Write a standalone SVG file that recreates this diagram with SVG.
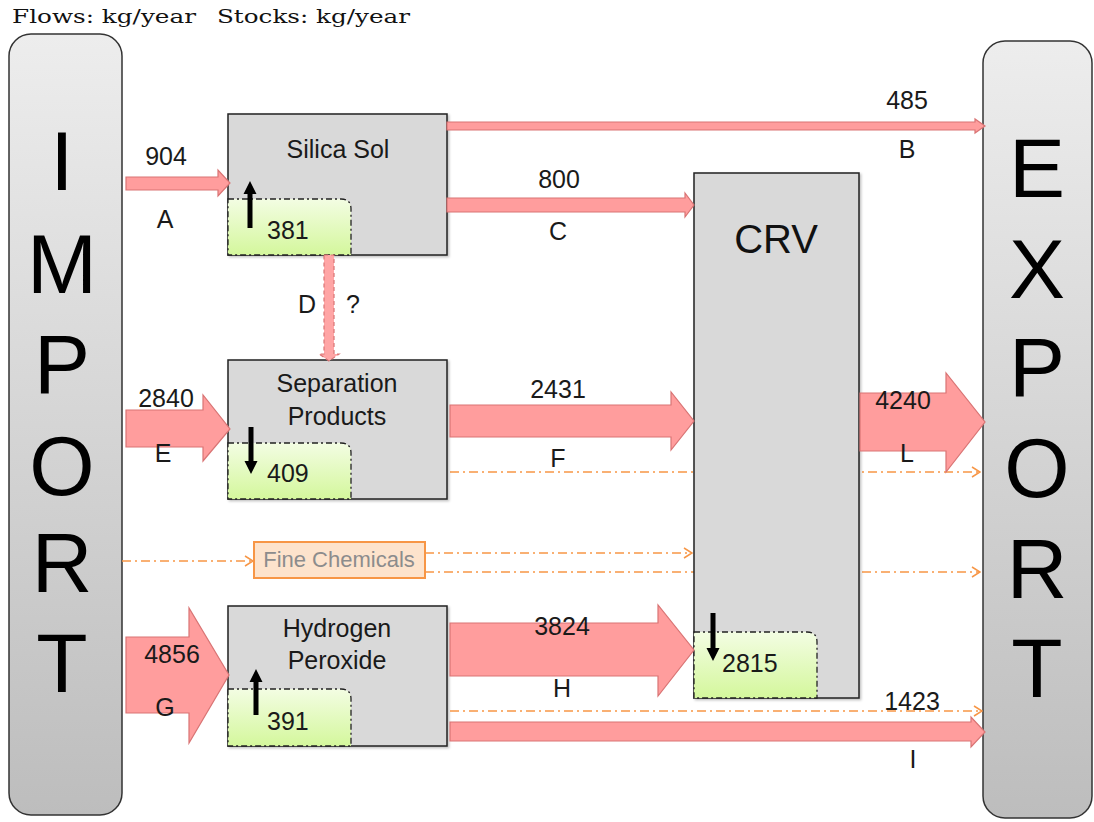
<svg xmlns="http://www.w3.org/2000/svg" width="1094" height="822" viewBox="0 0 1094 822">
<defs>
  <linearGradient id="gSide" x1="0" y1="0" x2="0" y2="1">
    <stop offset="0" stop-color="#ededed"/>
    <stop offset="1" stop-color="#bdbdbd"/>
  </linearGradient>
  <linearGradient id="gStock" x1="0" y1="0" x2="0" y2="1">
    <stop offset="0" stop-color="#f3fde3"/>
    <stop offset="1" stop-color="#d4f79c"/>
  </linearGradient>
  <marker id="chev" viewBox="0 0 10 12" refX="9" refY="6" markerWidth="10" markerHeight="12" markerUnits="userSpaceOnUse" orient="auto">
    <path d="M1,1 L9,6 L1,11" fill="none" stroke="#f79646" stroke-width="1.5"/>
  </marker>
  <filter id="sh" x="-5%" y="-5%" width="110%" height="110%">
    <feDropShadow dx="1.5" dy="1.5" stdDeviation="1" flood-color="#000" flood-opacity="0.25"/>
  </filter>
</defs>
<style>
  .side { fill: url(#gSide); stroke: #333; stroke-width: 1.5; }
  .big { font-family: "Liberation Sans", Arial, sans-serif; font-size: 84px; fill: #000; text-anchor: middle; }
  .box { fill: #d9d9d9; stroke: #222; stroke-width: 1.5; }
  .stock { fill: url(#gStock); stroke: #222; stroke-width: 1.3; stroke-dasharray: 6 3 2 3; }
  .t { font-family: "Liberation Sans", Arial, sans-serif; font-size: 25px; fill: #1a1a1a; text-anchor: middle; }
  .ts { font-family: "Liberation Sans", Arial, sans-serif; font-size: 25px; fill: #1a1a1a; }
  .crv { font-family: "Liberation Sans", Arial, sans-serif; font-size: 40px; fill: #111; text-anchor: middle; }
  .flow { fill: #ff9d9d; stroke: #d97474; stroke-width: 1.2; }
  .dflow { fill: #ffa5a5; stroke: #d97474; stroke-width: 1.2; stroke-dasharray: 4 3; }
  .od { fill: none; stroke: #f79646; stroke-width: 1.5; stroke-dasharray: 9 4 2 4; }
  .blk { fill: #000; }
  .hdr { font-family: "DejaVu Serif", "Liberation Serif", serif; font-size: 19px; fill: #111; }
  .fc { fill: #fde3cc; stroke: #f79646; stroke-width: 2; }
  .fct { font-family: "Liberation Sans", Arial, sans-serif; font-size: 22px; fill: #8c8c8c; text-anchor: middle; }
</style>

<text class="hdr" x="12" y="23" textLength="184" lengthAdjust="spacingAndGlyphs">Flows:  kg/year</text>
<text class="hdr" x="217" y="23" textLength="193" lengthAdjust="spacingAndGlyphs">Stocks: kg/year</text>

<g id="import">
  <rect class="side" x="9" y="34" width="113" height="781" rx="22"/>
  <text class="big" x="62" y="190">I</text>
  <text class="big" x="62" y="293">M</text>
  <text class="big" x="62" y="393">P</text>
  <text class="big" x="62" y="495">O</text>
  <text class="big" x="62" y="592">R</text>
  <text class="big" x="62" y="692">T</text>
</g>

<g id="export">
  <rect class="side" x="983" y="41" width="109" height="777" rx="22"/>
  <text class="big" x="1037" y="197">E</text>
  <text class="big" x="1037" y="298">X</text>
  <text class="big" x="1037" y="396">P</text>
  <text class="big" x="1037" y="497">O</text>
  <text class="big" x="1037" y="598">R</text>
  <text class="big" x="1037" y="697">T</text>
</g>

<g id="connectors-behind">
  <line class="od" x1="450" y1="472" x2="980" y2="472" marker-end="url(#chev)"/>
  <line class="od" x1="425" y1="572" x2="980" y2="572" marker-end="url(#chev)"/>
</g>

<g id="crv">
  <rect class="box" x="694" y="173" width="165" height="525" filter="url(#sh)"/>
  <text class="crv" x="776" y="253">CRV</text>
  <path class="stock" d="M694,632 H807 Q817,632 817,642 V698 H694 Z"/>
  <text class="ts" x="722" y="672">2815</text>
  <path class="blk" d="M710.5,613 H715.5 V648 H719.5 L713,661 L706.5,648 H710.5 Z"/>
</g>

<g id="silica-sol">
  <rect class="box" x="228" y="114" width="219" height="141" filter="url(#sh)"/>
  <text class="t" x="338" y="158">Silica Sol</text>
  <path class="stock" d="M228,199 H341 Q351,199 351,209 V255 H228 Z"/>
  <text class="ts" x="267" y="239">381</text>
  <path class="blk" d="M247.5,228 H252.5 V194 H256.5 L250,181 L243.5,194 H247.5 Z"/>
</g>

<g id="separation-products">
  <rect class="box" x="228" y="360" width="219" height="139" filter="url(#sh)"/>
  <text class="t" x="337" y="392">Separation</text>
  <text class="t" x="337" y="425">Products</text>
  <path class="stock" d="M228,443 H341 Q351,443 351,453 V499 H228 Z"/>
  <text class="ts" x="267" y="482">409</text>
  <path class="blk" d="M248.5,427 H253.5 V461 H257.5 L251,474 L244.5,461 H248.5 Z"/>
</g>

<g id="hydrogen-peroxide">
  <rect class="box" x="228" y="606" width="219" height="140" filter="url(#sh)"/>
  <text class="t" x="337" y="637">Hydrogen</text>
  <text class="t" x="337" y="669">Peroxide</text>
  <path class="stock" d="M228,689 H341 Q351,689 351,699 V746 H228 Z"/>
  <text class="ts" x="267" y="730">391</text>
  <path class="blk" d="M253.5,715 H258.5 V682 H262.5 L256,669 L249.5,682 H253.5 Z"/>
</g>

<g id="fine-chemicals">
  <rect class="fc" x="254" y="542" width="171" height="36"/>
  <text class="fct" x="339" y="567">Fine Chemicals</text>
</g>

<g id="connectors">
  <path class="flow" d="M126,177 H218 V170 L230,183 L218,196 V190 H126 Z"/>
  <path class="flow" d="M447,122 H975 V119 L985,126 L975,133 V130 H447 Z"/>
  <path class="flow" d="M447,198 H685 V193 L694,205 L685,217 V212 H447 Z"/>
  <path class="dflow" d="M324,255 H334 V354 H339 L329,361 L319,354 H324 Z"/>
  <path class="flow" d="M126,410 H203 V395 L230,429 L203,461 V447 H126 Z"/>
  <path class="flow" d="M450,405 H671 V392 L694,421 L671,450 V437 H450 Z"/>
  <path class="flow" d="M860,393 H946 V373 L985,422 L946,472 V451 H860 Z"/>
  <path class="flow" d="M126,637 H189 V608 L229,675 L189,743 V713 H126 Z"/>
  <path class="flow" d="M450,623 H658 V605 L694,650 L658,696 V676 H450 Z"/>
  <path class="flow" d="M450,722 H971 V717 L985,732 L971,747 V741 H450 Z"/>
  <line class="od" x1="122" y1="561" x2="253" y2="561" marker-end="url(#chev)"/>
  <line class="od" x1="425" y1="553" x2="692" y2="553" marker-end="url(#chev)"/>
  <line class="od" x1="450" y1="711" x2="982" y2="711" marker-end="url(#chev)"/>
</g>

<g id="labels">
  <text class="t" x="166" y="165">904</text>
  <text class="t" x="165" y="228">A</text>
  <text class="t" x="907" y="109">485</text>
  <text class="t" x="907" y="158">B</text>
  <text class="t" x="559" y="188">800</text>
  <text class="t" x="558" y="240">C</text>
  <text class="t" x="307" y="313">D</text>
  <text class="t" x="353" y="313">?</text>
  <text class="t" x="166" y="407">2840</text>
  <text class="t" x="163" y="462">E</text>
  <text class="t" x="558" y="398">2431</text>
  <text class="t" x="558" y="467">F</text>
  <text class="t" x="903" y="409">4240</text>
  <text class="t" x="907" y="462">L</text>
  <text class="t" x="172" y="663">4856</text>
  <text class="t" x="165" y="716">G</text>
  <text class="t" x="562" y="635">3824</text>
  <text class="t" x="562" y="697">H</text>
  <text class="t" x="912" y="710">1423</text>
  <text class="t" x="913" y="768">I</text>
</g>
</svg>
